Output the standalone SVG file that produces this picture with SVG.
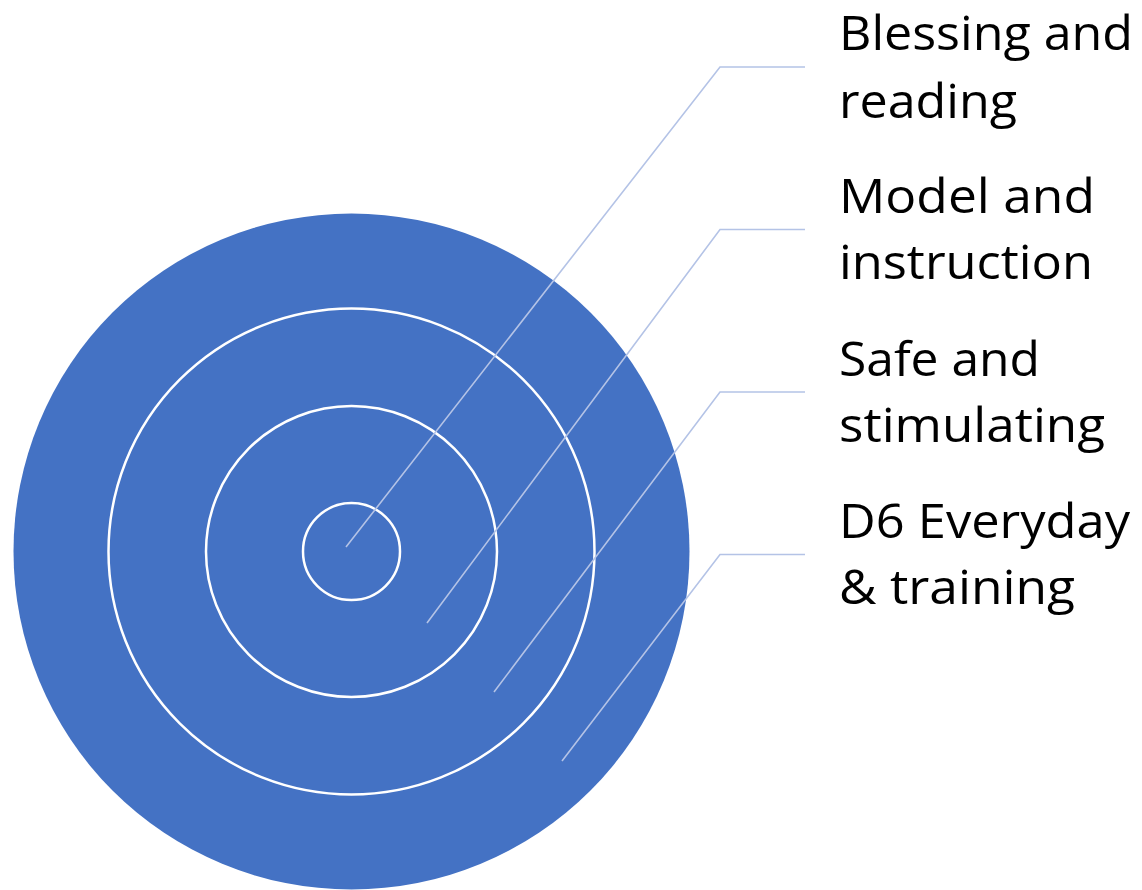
<svg xmlns="http://www.w3.org/2000/svg" width="1142" height="890" viewBox="0 0 1142 890">
<style>
.ring{fill:none;stroke:#ffffff;stroke-width:2.5}
.conn{fill:none;stroke:#b4c3e6;stroke-width:1.6}
.lbl{font-family:"Open Sans","Noto Sans","Liberation Sans",sans-serif;font-size:48px;fill:#000000}
</style>
<rect width="1142" height="890" fill="#ffffff"/>
<g id="ring-outer"><circle cx="351.5" cy="551.5" r="338" fill="#4472c4"/></g>
<g id="ring-3"><circle class="ring" cx="351.5" cy="551.5" r="243"/></g>
<g id="ring-2"><circle class="ring" cx="351.5" cy="551.5" r="145.5"/></g>
<g id="ring-1"><circle class="ring" cx="351.5" cy="551.5" r="48.5"/></g>
<g id="connectors">
<polyline class="conn" points="346,547 720,67 805,67"/>
<polyline class="conn" points="427,623 720,229.5 805,229.5"/>
<polyline class="conn" points="494,692 720,392 805,392"/>
<polyline class="conn" points="562,761 720,554.5 805,554.5"/>
</g>
<g id="label-1">
<text class="lbl" x="839" y="50" textLength="294" lengthAdjust="spacingAndGlyphs">Blessing and</text>
<text class="lbl" x="839" y="118" textLength="178" lengthAdjust="spacingAndGlyphs">reading</text>
</g>
<g id="label-2">
<text class="lbl" x="839" y="213" textLength="256" lengthAdjust="spacingAndGlyphs">Model and</text>
<text class="lbl" x="839" y="279" textLength="254" lengthAdjust="spacingAndGlyphs">instruction</text>
</g>
<g id="label-3">
<text class="lbl" x="839" y="376" textLength="201" lengthAdjust="spacingAndGlyphs">Safe and</text>
<text class="lbl" x="839" y="442" textLength="266" lengthAdjust="spacingAndGlyphs">stimulating</text>
</g>
<g id="label-4">
<text class="lbl" x="839" y="538" textLength="291" lengthAdjust="spacingAndGlyphs">D6 Everyday</text>
<text class="lbl" x="839" y="604" textLength="236" lengthAdjust="spacingAndGlyphs">&amp; training</text>
</g>
</svg>
